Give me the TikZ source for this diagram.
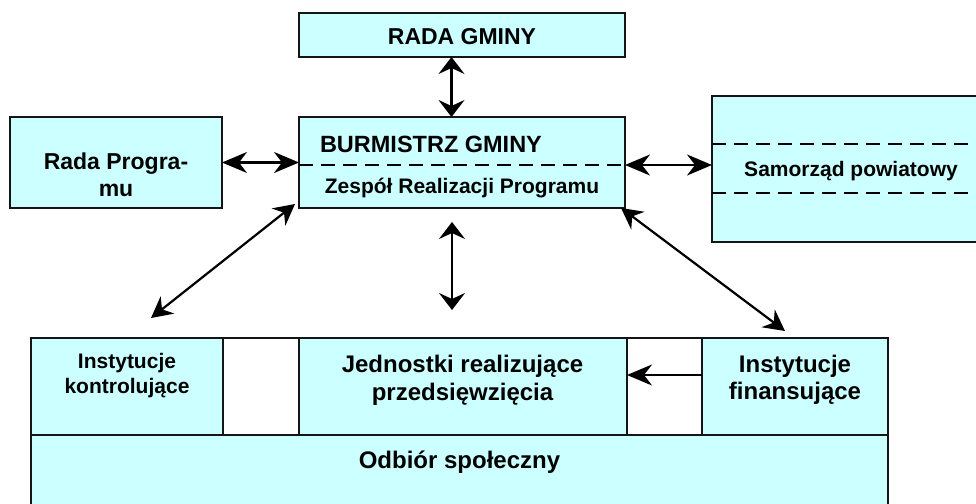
\documentclass[tikz,border=0pt]{standalone}
\usepackage{fontspec}
\setmainfont{Liberation Sans}
\usetikzlibrary{arrows.meta}
\definecolor{boxcyan}{HTML}{CCFFFF}
\definecolor{edge}{HTML}{151515}
\newcommand\fsz[2]{\fontsize{#1}{#2}\selectfont\bfseries}
\tikzset{
  box/.style={draw=edge, fill=boxcyan, line width=2pt, rectangle, inner sep=0pt, outer sep=0pt, anchor=north west},
  whitebox/.style={box, fill=white},
  txt/.style={inner sep=0pt, outer sep=0pt, align=center, text=black},
  dline/.style={draw=black, line width=2pt, dash pattern=on 14pt off 8pt},
  htip/.tip={Stealth[length=25pt,width=21pt,inset=8pt]},
  vtip/.tip={Stealth[length=17pt,width=26pt,inset=6pt]},
  dtip/.tip={Stealth[length=21pt,width=22pt,inset=7pt]},
  harrow/.style={line width=2.2pt, htip-htip},
  harrowone/.style={line width=2.2pt, -htip},
  varrow/.style={line width=2.2pt, vtip-vtip},
  darrow/.style={line width=2.2pt, dtip-dtip}
}
\begin{document}
\begin{tikzpicture}[x=1pt,y=-1pt]
\useasboundingbox (0,0) rectangle (976,503);
\clip (0,0) rectangle (976,503);
% boxes
\node[box, minimum width=326pt, minimum height=44pt] (rg) at (299,13) {};
\node[box, minimum width=326pt, minimum height=91pt] (burm) at (299,117) {};
\node[box, minimum width=212pt, minimum height=91pt] (rp) at (10,117) {};
\node[box, minimum width=278pt, minimum height=146pt] (sp) at (712,96) {};
\node[whitebox, minimum width=857pt, minimum height=97pt] (row) at (31,338) {};
\node[box, minimum width=192pt, minimum height=97pt] (kon) at (31,338) {};
\node[box, minimum width=328pt, minimum height=97pt] (jed) at (299,338) {};
\node[box, minimum width=186pt, minimum height=97pt] (fin) at (702,338) {};
\node[box, minimum width=857pt, minimum height=85pt] (odb) at (31,435) {};
% dashed lines
\coordinate (bdL) at (299,165);
\coordinate (bdR) at (625,165);
\draw[dline] (bdL) -- (bdR);
\coordinate (sd1L) at (712,144);
\coordinate (sd1R) at (990,144);
\coordinate (sd2L) at (712,193);
\coordinate (sd2R) at (990,193);
\draw[dline] (sd1L) -- (sd1R);
\draw[dline] (sd2L) -- (sd2R);
% texts
\node[txt, anchor=base, font=\fsz{23}{27}] (trg) at (462,44.3) {RADA GMINY};
\node[txt, anchor=base west, font=\fsz{23.5}{27}] (tburm) at (320,152) {BURMISTRZ GMINY};
\node[txt, anchor=base, font=\fsz{21}{25}] (tzesp) at (462,193) {Zespół Realizacji Programu};
\node[txt, font=\fsz{23}{27}] (trp) at (116,175.1) {Rada Progra-\\mu};
\node[txt, anchor=base, font=\fsz{21}{25}] (tsp) at (851,176.7) {Samorząd powiatowy};
\node[txt, font=\fsz{21}{25}] (tkon) at (127,375.2) {Instytucje\\kontrolujące};
\node[txt, font=\fsz{24}{28}] (tjed) at (462.5,379.8) {Jednostki realizujące\\przedsięwzięcia};
\node[txt, font=\fsz{24}{27}] (tfin) at (795,379.3) {Instytucje\\finansujące};
\node[txt, anchor=base, font=\fsz{24}{28}] (todb) at (459.5,468) {Odbiór społeczny};
% connectors
\draw[varrow] ([xshift=-10.5pt]rg.south) -- ([xshift=-10.5pt]burm.north);
\draw[harrow] (rp.east) -- (burm.west |- rp.east);
\draw[harrow] (bdR) -- (sp.west |- bdR);
\coordinate (kc) at (151,318);
\draw[darrow] ([shift={(-4,-4)}]burm.south west) -- (kc);
\coordinate (fc) at (785,331);
\draw[darrow] ([shift={(-4,0)}]burm.south east) -- (fc);
\coordinate (m1) at (452,222);
\coordinate (m2) at (452,310);
\draw[varrow] (m1) -- (m2);
\coordinate (fy) at (0,375);
\draw[harrowone] (fin.west |- fy) -- (jed.east |- fy);
\end{tikzpicture}
\end{document}
